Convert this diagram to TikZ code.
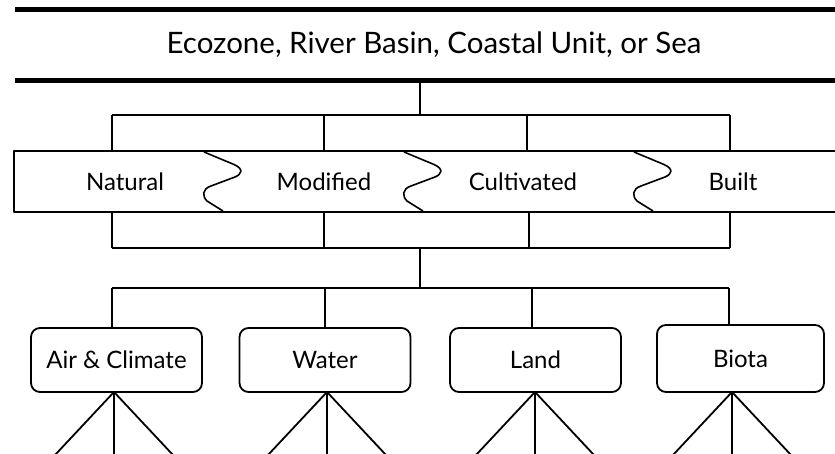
\documentclass[tikz,border=0pt]{standalone}
\usepackage{fontspec}
\setmainfont{Lato}
\begin{document}
\begin{tikzpicture}[x=1pt,y=-1pt,line width=1.8pt,line join=round,
  lbl/.style={font=\fontsize{24}{28}\selectfont,inner sep=0pt},
  headbox/.style={minimum width=820pt,minimum height=70pt,inner sep=0pt},
  headtext/.style={font=\fontsize{29.5}{34}\selectfont,inner sep=0pt},
  bandbox/.style={minimum width=822pt,minimum height=59pt,inner sep=0pt},
  catbox/.style={draw,rounded corners=9pt,minimum width=171pt,minimum height=64pt,
    inner sep=0pt,font=\fontsize{24}{28}\selectfont},
  rule/.style={line width=5pt}]
\useasboundingbox (0,0) rectangle (835,453);

% heading with heavy rules above and below
\node[headbox] (top) at (426,45) {};
\node[headtext] (toptxt) at (434,45) {Ecozone, River Basin, Coastal Unit, or Sea};
\draw[rule] (top.north west) -- (top.north east);
\draw[rule] (top.south west) -- (top.south east);

% band of land-use classes, open on the right
\node[bandbox] (band) at (426,181.5) {};
\draw (band.north east) -- (band.north west) -- (band.south west) -- (band.south east);
\node[lbl] (nat) at (125,182) {Natural};
\node[lbl] (mod) at (324,182) {Modified};
\node[lbl] (cul) at (523,182) {Cultivated};
\node[lbl] (blt) at (733,182) {Built};

% wavy dividers between the classes
\foreach \x in {204,404,634}{
  \draw[line width=1.6pt] (\x,152) -- (\x+30,164.5)
    .. controls (\x+40,169) and (\x+38,174) .. (\x+31,177)
    -- (\x+7,186) .. controls (\x-2,189) and (\x-2,196) .. (\x+3,201)
    -- (\x+19,211);
}

% branches from the heading to the band
\coordinate (hub) at (420,115);
\draw (top.south -| hub) -- (hub);
\coordinate (u1) at (112,115);
\coordinate (u2) at (324,115);
\coordinate (u3) at (527,115);
\coordinate (u4) at (730,115);
\draw (u1) -- (u4);
\foreach \u in {u1,u2,u3,u4}{\draw (\u) -- (\u |- band.north);}

% branches from the band down to the lower bus
\coordinate (l1) at (112,248);
\coordinate (l2) at (324,248);
\coordinate (l3) at (529,248);
\coordinate (l4) at (730,248);
\draw (l1) -- (l4);
\foreach \l in {l1,l2,l3,l4}{\draw (\l |- band.south) -- (\l);}

% resource categories
\node[catbox] (air) at (116.5,360) {Air \& Climate};
\node[catbox] (wat) at (325,360) {Water};
\node[catbox] (lnd) at (535.5,360) {Land};
\node[catbox,minimum width=167pt,minimum height=67pt] (bio) at (740.5,358.5) {Biota};

\coordinate (lhub) at (420,248);
\coordinate (d0) at (420,288);
\draw (lhub) -- (d0);
\coordinate (d1) at (112,288);
\coordinate (d2) at (325,288);
\coordinate (d3) at (532,288);
\coordinate (d4) at (729,288);
\draw (d1) -- (d4);
\draw (d1) -- (d1 |- air.north);
\draw (d2) -- (d2 |- wat.north);
\draw (d3) -- (d3 |- lnd.north);
\draw (d4) -- (d4 |- bio.north);

% three-way fans below each category
\foreach \n/\x in {air/114,wat/327,lnd/535,bio/732}{
  \coordinate (\n apex) at (\x,392);
  \coordinate (\n L) at (\x-59,455);
  \coordinate (\n M) at (\x,455);
  \coordinate (\n R) at (\x+59,455);
  \draw (\n apex) -- (\n L);
  \draw (\n apex) -- (\n M);
  \draw (\n apex) -- (\n R);
}
\end{tikzpicture}
\end{document}
